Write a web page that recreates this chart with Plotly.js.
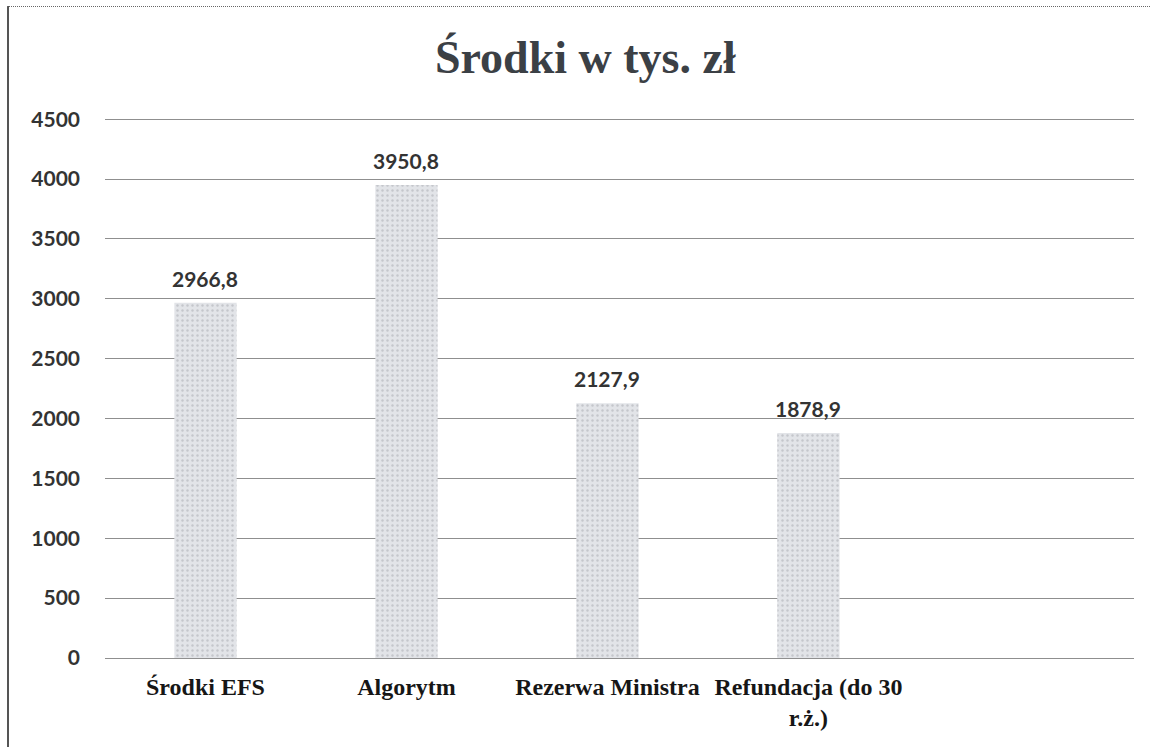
<!DOCTYPE html>
<html>
<head>
<meta charset="utf-8">
<script src="https://cdn.plot.ly/plotly-3.0.1.min.js"></script>
<style>
  html, body { margin: 0; padding: 0; background: #ffffff; }
  #frame { position: absolute; left: 0; top: 0; width: 1150px; height: 747px; overflow: hidden; }
  #bl { position: absolute; left: 7px; top: 6px; width: 2px; height: 741px; background: #555; }
  #bt { position: absolute; left: 7px; top: 6px; width: 1143px; height: 0; border-top: 1px dotted #666; }
  #chart { position: absolute; left: 0; top: 0; width: 1150px; height: 747px; }
</style>
</head>
<body>
<div id="frame">
  <div id="chart"></div>
  <div id="bl"></div>
  <div id="bt"></div>
</div>
<script>
// Data
const categories = ["Środki EFS", "Algorytm", "Rezerwa Ministra", "Refundacja (do 30<br>r.ż.)"];
const values = [2966.8, 3950.8, 2127.9, 1878.9];
const valueLabels = ["2966,8", "3950,8", "2127,9", "1878,9"];
const yTicks = [0, 500, 1000, 1500, 2000, 2500, 3000, 3500, 4000, 4500];
const chartTitle = "Środki w tys. zł";

const sansBold = "Lato, 'Open Sans', sans-serif";
const serif = "'Liberation Serif', 'DejaVu Serif', serif";

const trace = {
  type: "bar",
  x: [0, 1, 2, 3],
  y: values,
  width: 0.31,
  marker: {
    color: "#e0e2e6",
    line: { width: 0 },
    pattern: { shape: ".", fgcolor: "#c4c6cb", bgcolor: "#e2e4e8", size: 5, solidity: 0.18 }
  },
  hoverinfo: "skip",
  showlegend: false
};

const annotations = values.map((v, i) => ({
  x: i, y: v, xref: "x", yref: "y",
  text: "<b>" + valueLabels[i] + "</b>",
  showarrow: false,
  yanchor: "bottom",
  yshift: 10,
  font: { family: sansBold, size: 21, color: "#333333" }
}));

const layout = {
  width: 1150,
  height: 747,
  paper_bgcolor: "rgba(0,0,0,0)",
  plot_bgcolor: "rgba(0,0,0,0)",
  margin: { l: 105, r: 16, t: 118, b: 89 },
  title: {
    text: "<b>" + chartTitle + "</b>",
    font: { family: serif, size: 46, color: "#3b4045" },
    x: 0.509, xanchor: "center",
    y: 1 - 57 / 747, yanchor: "middle", yref: "container"
  },
  xaxis: {
    type: "linear",
    range: [-0.5, 4.62],
    tickmode: "array",
    tickvals: [0, 1, 2, 3],
    ticktext: categories.map(c => "<b>" + c + "</b>"),
    tickfont: { family: serif, size: 24, color: "#161616" },
    ticks: "",
    showgrid: false,
    zeroline: false,
    showline: false,
    ticklabelstandoff: 12,
    fixedrange: true
  },
  yaxis: {
    range: [0, 4510],
    tickmode: "array",
    tickvals: yTicks,
    ticktext: yTicks.map(t => "<b>" + t + "</b>"),
    tickfont: { family: sansBold, size: 21, color: "#333333" },
    showgrid: true,
    gridcolor: "#8f8f8f",
    gridwidth: 1,
    zeroline: true,
    zerolinecolor: "#8f8f8f",
    zerolinewidth: 1,
    showline: false,
    ticks: "",
    ticklabelstandoff: 24,
    fixedrange: true
  },
  annotations: annotations
};

Plotly.newPlot("chart", [trace], layout, { displayModeBar: false, staticPlot: true });
</script>
</body>
</html>
